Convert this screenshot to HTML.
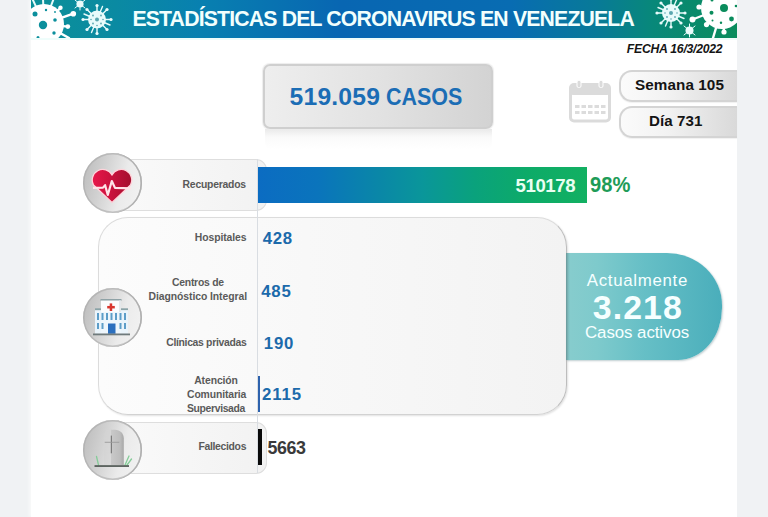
<!DOCTYPE html>
<html><head><meta charset="utf-8">
<style>
*{margin:0;padding:0;box-sizing:border-box}
html,body{width:768px;height:517px;overflow:hidden;background:#f0f2f4}
body{position:relative;font-family:"Liberation Sans",Arial,sans-serif}
.a{position:absolute}
.t{position:absolute;white-space:nowrap;line-height:1}
#panel{left:31px;top:0;width:706px;height:517px;background:#fff;box-shadow:-2px 0 3px #f8f9fa}
#banner{left:31px;top:0;width:706px;height:38px;overflow:hidden;
 background:linear-gradient(to right,#0b9098 0%,#0a8aa2 12%,#0880b0 24%,#0866b2 44%,#086cb2 68%,#087a98 80%,#08887a 88%,#0a8c5c 100%)}
#bline{left:31px;top:38px;width:706px;height:2px;background:#effdfb}
#title{color:#f2fffd;font-weight:bold}
#fecha{font-weight:bold;font-style:italic;color:#151515}
/* casos box */
#casos{left:263px;top:64px;width:230px;height:65px;border-radius:7px;
 background:linear-gradient(to right,#eeeeee,#e2e2e2 50%,#d3d3d3);
 border:2px solid #cfcfcf;box-shadow:0 0 1px 1px #ededed}
#casosr{left:265px;top:129px;width:227px;height:20px;border-radius:0 0 6px 6px;
 background:linear-gradient(to bottom,rgba(228,228,228,.8),rgba(240,240,240,.35) 40%,rgba(255,255,255,0))}
.casosT{color:#1b6db5;font-weight:bold}
/* pills */
.pill{left:619px;width:118px;height:32px;border-radius:13px 0 0 13px;
 background:linear-gradient(to right,#fbfbfb 0%,#f2f2f2 40%,#d9d9d9 100%);
 border:2px solid #d4d4d4;border-right:none;box-shadow:0 1px 1px rgba(0,0,0,.06)}
#semana{top:70px}
#dia{top:106px}
.pt{color:#141414;font-weight:bold}
/* label boxes */
.lbox{left:112px;width:155px;border-radius:0 11px 11px 0;
 background:linear-gradient(to right,#fafafa,#f2f2f2);
 border:1.5px solid #dedede;border-left:none}
#lrec{top:159px;height:52px}
#lfal{top:422px;height:52px}
.lab{color:#5a5a5a;font-weight:bold}
#bigbox{left:98px;top:217px;width:469px;height:198px;border-radius:30px;
 background:linear-gradient(to right,#fcfcfc,#f3f3f3);
 border:1.5px solid #dcdcdc;border-right-color:#bdbdbd;border-bottom-color:#d2d2d2;
 box-shadow:1px 1px 2px rgba(0,0,0,.12)}
#divl{left:257px;top:159px;width:1px;height:314px;background:#d9dde2}
#bar{left:258px;top:166.5px;width:329px;height:36px;
 background:linear-gradient(to right,#0b6cc2 0%,#0a74bc 18%,#0a86a8 36%,#0a969a 50%,#0aa27c 66%,#0dab68 82%,#12b062 100%)}
#barT{color:#eafff2;font-weight:bold}
#pct{color:#1e9c58;font-weight:bold}
.num{color:#1c6aab;font-weight:bold}
#blueb{left:258px;top:376px;width:1.6px;height:36px;background:#2d62ad}
#blackb{left:258px;top:429px;width:3.8px;height:36px;background:#0a0a0a}
#n5663{color:#3a3a3a;font-weight:bold}
#tab{left:566px;top:252.5px;width:155.5px;height:107.5px;border-radius:0 55px 44px 0/0 52px 52px 0;
 background:linear-gradient(to right,#6a9597 0px,#7cb9bb 2px,#86cccd 4px,#7ecacc 20%,#66bfc6 50%,#4aaebb 100%);
 box-shadow:1px 1px 2px rgba(0,60,70,.25)}
.tw{color:#f6ffff}
#act3{font-weight:bold}
.circ{left:82.5px;width:59.5px;height:59.5px;border-radius:50%;
 background:linear-gradient(105deg,#b9b9b9 0%,#d2d2d2 35%,#ebebeb 65%,#f3f3f3 100%);
 box-shadow:inset -1.5px 0 0 #b0b0b0, inset 0 0 0 1.5px rgba(170,170,170,.6)}
#c1{top:153px}
#c2{top:287.5px}
#c3{top:420px}
</style>
<style id="fit">#title{font-size:21.22px;letter-spacing:-0.820px;left:132.40px;top:7.64px}
#fecha{font-size:12.21px;letter-spacing:-0.243px;left:626.80px;top:43.26px}
#casosA{font-size:24.7px;letter-spacing:0.183px;left:289.60px;top:85.19px}
#casosB{font-size:24.7px;letter-spacing:0.000px;left:386.40px;top:85.19px;transform:scaleX(0.8692);transform-origin:0 0}
#semT{font-size:15.26px;letter-spacing:0.078px;left:635.00px;top:77.18px}
#diaT{font-size:15.12px;letter-spacing:0.067px;left:649.00px;top:113.20px}
#recL{font-size:10.4px;letter-spacing:-0.230px;left:182.60px;top:180.00px}
#barT{font-size:18.6px;letter-spacing:-0.420px;left:515.60px;top:176.75px}
#pct{font-size:21.22px;letter-spacing:0.000px;left:590.00px;top:174.44px;transform:scaleX(0.9490);transform-origin:0 0}
#hosL{font-size:10.4px;letter-spacing:-0.089px;left:194.80px;top:232.70px}
#n428{font-size:16.8px;letter-spacing:0.650px;left:262.80px;top:231.18px}
#cenL1{font-size:10.4px;letter-spacing:-0.244px;left:172.00px;top:277.60px}
#cenL2{font-size:10.4px;letter-spacing:-0.076px;left:148.60px;top:292.20px}
#n485{font-size:16.8px;letter-spacing:0.850px;left:261.20px;top:284.38px}
#cliL{font-size:10.4px;letter-spacing:-0.312px;left:166.20px;top:338.20px}
#n190{font-size:16.8px;letter-spacing:0.750px;left:263.80px;top:335.53px}
#atL1{font-size:10.4px;letter-spacing:-0.100px;left:194.20px;top:375.70px}
#atL2{font-size:10.4px;letter-spacing:-0.125px;left:187.00px;top:389.70px}
#atL3{font-size:10.4px;letter-spacing:-0.350px;left:187.00px;top:403.90px}
#n2115{font-size:16.8px;letter-spacing:0.900px;left:262.00px;top:386.98px}
#falL{font-size:10.4px;letter-spacing:-0.311px;left:198.40px;top:441.70px}
#n5663{font-size:17.88px;letter-spacing:-0.433px;left:267.60px;top:439.57px}
#act1{font-size:16.86px;letter-spacing:0.680px;left:586.80px;top:273.03px}
#act3{font-size:33.87px;letter-spacing:1.075px;left:592.80px;top:290.63px}
#act2{font-size:16.86px;letter-spacing:-0.067px;left:585.00px;top:324.63px}</style>
</head><body>
<div class="a" id="panel"></div>
<div class="a" id="banner">
<svg width="706" height="38" viewBox="0 0 706 38" style="position:absolute;left:0;top:0">
 <!-- left big virus (origin panel x=31) -->
 <g stroke="#e6fbfa" stroke-width="2" stroke-linecap="round">
  <line x1="13" y1="24" x2="1" y2="-2"/><line x1="13" y1="24" x2="12" y2="-2"/><line x1="13" y1="24" x2="23" y2="-2"/>
 </g>
 <g stroke="#fff" stroke-width="2.4" stroke-linecap="round">
  <line x1="13" y1="24" x2="29.5" y2="7.8"/><line x1="13" y1="24" x2="42.3" y2="13.7"/><line x1="13" y1="24" x2="36.8" y2="26.6"/><line x1="13" y1="24" x2="38" y2="38"/>
 </g>
 <g fill="#fff">
  <circle cx="13" cy="24" r="20"/>
  <circle cx="29.5" cy="7.8" r="2.2"/><circle cx="42.3" cy="13.7" r="2.8"/><circle cx="36.8" cy="26.6" r="2.4"/>
 </g>
 <g fill="#0b8f9c">
  <circle cx="12" cy="25" r="4.2"/><circle cx="4" cy="14" r="2.5"/><circle cx="15" cy="10" r="1.2"/><circle cx="24" cy="20" r="1.8"/><circle cx="23" cy="33" r="1.7"/><circle cx="7" cy="37.5" r="1.5"/><circle cx="24" cy="12" r=".9"/>
 </g>
 <!-- small virus top -->
 <g fill="#e8fbfb" stroke="#e8fbfb">
  <circle cx="49" cy="4" r="3.6" stroke="none"/>
  <g stroke-width="1" stroke-linecap="round"><line x1="49" y1="4" x2="54" y2="0"/><line x1="49" y1="4" x2="44" y2="0"/><line x1="49" y1="4" x2="54" y2="8"/><line x1="49" y1="4" x2="44" y2="8"/><line x1="49" y1="4" x2="49" y2="10"/></g>
 </g>
 <!-- medium virus left -->
 <g transform="translate(66,19.5)">
  <g stroke="#e8fbfb" stroke-width="1.4" stroke-linecap="round">
   <line x1="0" y1="0" x2="0" y2="-14"/><line x1="0" y1="0" x2="0" y2="14"/><line x1="0" y1="0" x2="-14" y2="0"/><line x1="0" y1="0" x2="14" y2="0"/>
   <line x1="0" y1="0" x2="10" y2="-10"/><line x1="0" y1="0" x2="-10" y2="-10"/><line x1="0" y1="0" x2="10" y2="10"/><line x1="0" y1="0" x2="-10" y2="10"/>
   <line x1="0" y1="0" x2="5.5" y2="-13"/><line x1="0" y1="0" x2="-5.5" y2="13"/><line x1="0" y1="0" x2="13" y2="5.5"/><line x1="0" y1="0" x2="-13" y2="-5.5"/>
  </g>
  <g fill="#e8fbfb">
   <circle r="9"/><circle cx="0" cy="-14" r="1.6"/><circle cx="0" cy="14" r="1.6"/><circle cx="-14" cy="0" r="1.6"/><circle cx="14" cy="0" r="1.6"/>
   <circle cx="10" cy="-10" r="1.6"/><circle cx="-10" cy="-10" r="1.6"/><circle cx="10" cy="10" r="1.6"/><circle cx="-10" cy="10" r="1.6"/>
  </g>
  <g fill="#5aa7b0"><circle r="2"/><circle cx="-4" cy="-4" r=".9"/><circle cx="4" cy="-4" r=".9"/><circle cx="-4" cy="4" r=".9"/><circle cx="4" cy="4" r=".9"/><circle cx="-6" cy="0" r=".8"/><circle cx="6" cy="0" r=".8"/><circle cx="0" cy="6" r=".8"/></g>
 </g>
 <!-- right medium virus -->
 <g transform="translate(640,13)">
  <g stroke="#e8fbfb" stroke-width="1.4" stroke-linecap="round">
   <line x1="0" y1="0" x2="0" y2="-14"/><line x1="0" y1="0" x2="0" y2="14"/><line x1="0" y1="0" x2="-14" y2="0"/><line x1="0" y1="0" x2="14" y2="0"/>
   <line x1="0" y1="0" x2="10" y2="-10"/><line x1="0" y1="0" x2="-10" y2="-10"/><line x1="0" y1="0" x2="10" y2="10"/><line x1="0" y1="0" x2="-10" y2="10"/>
   <line x1="0" y1="0" x2="5.5" y2="-13"/><line x1="0" y1="0" x2="-5.5" y2="13"/><line x1="0" y1="0" x2="13" y2="5.5"/><line x1="0" y1="0" x2="-13" y2="-5.5"/>
  </g>
  <g fill="#e8fbfb">
   <circle r="9"/><circle cx="0" cy="-14" r="1.6"/><circle cx="0" cy="14" r="1.6"/><circle cx="-14" cy="0" r="1.6"/><circle cx="14" cy="0" r="1.6"/>
   <circle cx="10" cy="-10" r="1.6"/><circle cx="-10" cy="-10" r="1.6"/><circle cx="10" cy="10" r="1.6"/><circle cx="-10" cy="10" r="1.6"/>
  </g>
  <g fill="#5aa7b0"><circle r="2"/><circle cx="-4" cy="-4" r=".9"/><circle cx="4" cy="-4" r=".9"/><circle cx="-4" cy="4" r=".9"/><circle cx="4" cy="4" r=".9"/><circle cx="-6" cy="0" r=".8"/><circle cx="6" cy="0" r=".8"/><circle cx="0" cy="6" r=".8"/></g>
 </g>
 <!-- right small virus -->
 <g fill="#e8fbfb" stroke="#e8fbfb">
  <circle cx="658.5" cy="30.5" r="4" stroke="none"/>
  <g stroke-width="1" stroke-linecap="round"><line x1="658.5" y1="30.5" x2="664" y2="26"/><line x1="658.5" y1="30.5" x2="653" y2="26"/><line x1="658.5" y1="30.5" x2="664" y2="35"/><line x1="658.5" y1="30.5" x2="653" y2="35"/><line x1="658.5" y1="30.5" x2="658.5" y2="24"/><line x1="658.5" y1="30.5" x2="658.5" y2="37"/></g>
 </g>
 <!-- right big virus -->
 <g stroke="#fff" stroke-width="2.4" stroke-linecap="round">
  <line x1="691" y1="8" x2="661.5" y2="19.5"/><line x1="691" y1="8" x2="668" y2="7"/><line x1="691" y1="8" x2="675.5" y2="24.6"/><line x1="691" y1="8" x2="693" y2="32"/><line x1="691" y1="8" x2="682" y2="38"/>
 </g>
 <g fill="#fff">
  <circle cx="691" cy="8" r="21"/>
  <circle cx="661.5" cy="19.5" r="3"/><circle cx="668" cy="7" r="2.6"/><circle cx="675.5" cy="24.6" r="2.6"/><circle cx="693" cy="32" r="2.6"/>
 </g>
 <g fill="#0a8c5c">
  <circle cx="693" cy="8" r="4"/><circle cx="680.5" cy="12.8" r="2"/><circle cx="700.5" cy="19" r="2.4"/><circle cx="681.5" cy="20.5" r="1"/><circle cx="690" cy="22.7" r="1.2"/><circle cx="705" cy="6" r="1.3"/><circle cx="681" cy="0" r="1.5"/>
 </g>
</svg>
</div>
<div class="a" id="bline"></div>
<div class="t" id="title">ESTADÍSTICAS DEL CORONAVIRUS EN VENEZUELA</div>
<div class="t" id="fecha">FECHA 16/3/2022</div>

<div class="a" id="casosr"></div>
<div class="a" id="casos"></div>
<div class="t casosT" id="casosA">519.059</div>
<div class="t casosT" id="casosB">CASOS</div>

<svg class="a" style="left:568px;top:80px" width="45" height="44" viewBox="0 0 45 44">
 <g fill="none" stroke="#dbdbdb">
  <rect x="2.5" y="4.5" width="39" height="36.5" rx="3.5" stroke-width="3"/>
 </g>
 <rect x="2" y="4" width="40" height="11" rx="3" fill="#dbdbdb"/>
 <rect x="9" y="0.5" width="4" height="7" rx="1.5" fill="#dbdbdb" stroke="#fff" stroke-width="1"/>
 <rect x="31" y="0.5" width="4" height="7" rx="1.5" fill="#dbdbdb" stroke="#fff" stroke-width="1"/>
 <g fill="#dcdcdc">
  <rect x="7" y="25" width="4.5" height="3"/><rect x="13.5" y="25" width="4.5" height="3"/><rect x="20" y="25" width="4.5" height="3"/><rect x="26.5" y="25" width="4.5" height="3"/><rect x="33" y="25" width="4.5" height="3"/>
  <rect x="7" y="31" width="4.5" height="3"/><rect x="13.5" y="31" width="4.5" height="3"/><rect x="20" y="31" width="4.5" height="3"/><rect x="26.5" y="31" width="4.5" height="3"/><rect x="33" y="31" width="4.5" height="3"/>
 </g>
</svg>

<div class="a pill" id="semana"></div>
<div class="a pill" id="dia"></div>
<div class="t pt" id="semT">Semana 105</div>
<div class="t pt" id="diaT">Día 731</div>

<div class="a" id="bigbox"></div>
<div class="a lbox" id="lrec"></div>
<div class="a lbox" id="lfal"></div>
<div class="a" id="divl"></div>
<div class="a" id="bar"></div>
<div class="a" id="tab"></div>
<div class="a" id="blueb"></div>
<div class="a" id="blackb"></div>

<div class="t lab" id="recL">Recuperados</div>
<div class="t" id="barT">510178</div>
<div class="t" id="pct">98%</div>

<div class="t lab" id="hosL">Hospitales</div>
<div class="t num" id="n428">428</div>
<div class="t lab" id="cenL1">Centros de</div>
<div class="t lab" id="cenL2">Diagnóstico Integral</div>
<div class="t num" id="n485">485</div>
<div class="t lab" id="cliL">Clínicas privadas</div>
<div class="t num" id="n190">190</div>
<div class="t lab" id="atL1">Atención</div>
<div class="t lab" id="atL2">Comunitaria</div>
<div class="t lab" id="atL3">Supervisada</div>
<div class="t num" id="n2115">2115</div>
<div class="t lab" id="falL">Fallecidos</div>
<div class="t" id="n5663">5663</div>

<div class="t tw" id="act1">Actualmente</div>
<div class="t tw" id="act3">3.218</div>
<div class="t tw" id="act2">Casos activos</div>

<div class="a circ" id="c1"></div>
<div class="a circ" id="c2"></div>
<div class="a circ" id="c3"></div>

<!-- heart -->
<svg class="a" style="left:91px;top:168px" width="43" height="36" viewBox="0 0 43 36">
 <defs><linearGradient id="hg" x1="0" x2="1" y1="0" y2="0"><stop offset="0" stop-color="#e8174a"/><stop offset=".5" stop-color="#c8123c"/><stop offset="1" stop-color="#a3102e"/></linearGradient></defs>
 <path d="M21 7 A10.5 10.5 0 1 0 2.5 17 L21 34.4 L39.5 17 A10.5 10.5 0 1 0 21 7 Z" fill="url(#hg)" stroke="#ffd3da" stroke-width="1.3"/>
 <polyline points="2,19.8 12,19.6 14.1,17.2 16.8,27 20.8,13 24,19.9 40,20.4" fill="none" stroke="#ffe4e8" stroke-width="2.2" stroke-linejoin="round"/>
</svg>

<!-- hospital -->
<svg class="a" style="left:92px;top:298px" width="40" height="38" viewBox="0 0 40 38">
 <rect x="8.5" y="1" width="21" height="1.8" fill="#8fa2a6"/>
 <rect x="9" y="2.6" width="20" height="12" fill="#fbfcfd"/>
 <rect x="27" y="2.6" width="2" height="12" fill="#e4e8ea"/>
 <rect x="17.7" y="5.4" width="2.5" height="7.6" fill="#d8362e"/>
 <rect x="15.2" y="7.95" width="7.6" height="2.5" fill="#d8362e"/>
 <rect x="3" y="10.3" width="6" height="2" fill="#8aa3a7"/>
 <rect x="29" y="10.3" width="7" height="2" fill="#8aa3a7"/>
 <rect x="3" y="12.3" width="6" height="23.5" fill="#eaf4fb"/>
 <rect x="29" y="12.3" width="7" height="23.5" fill="#eaf4fb"/>
 <rect x="9" y="14" width="20" height="21.8" fill="#eef6fc"/>
 <g fill="#5d9dc8">
  <rect x="5" y="15" width="2" height="7"/><rect x="9.5" y="15" width="2" height="7"/><rect x="14" y="15" width="2" height="7"/><rect x="18.5" y="15" width="2" height="7"/><rect x="23" y="15" width="2" height="7"/><rect x="27.5" y="15" width="2" height="7"/><rect x="32" y="15" width="2" height="7"/>
  <rect x="5" y="25" width="2" height="6"/><rect x="9.5" y="25" width="2" height="6"/><rect x="27.5" y="25" width="2" height="6"/><rect x="32" y="25" width="2" height="6"/>
 </g>
 <rect x="16" y="25.5" width="7.5" height="10.3" fill="#2b6fbe"/>
 <rect x="1" y="35.5" width="37" height="1.8" fill="#6f7a7c"/>
</svg>

<!-- tomb -->
<svg class="a" style="left:92px;top:427px" width="42" height="42" viewBox="0 0 42 42">
 <defs><linearGradient id="tg" x1="0" x2="1"><stop offset="0" stop-color="#c9c9c9"/><stop offset=".7" stop-color="#bdbdbd"/><stop offset="1" stop-color="#a8a8a8"/></linearGradient></defs>
 <path d="M12 38 L12 7 C12 4.5 14 2.8 17 2.8 L19 2.8 L19 38 Z" fill="#d4d4d4" opacity=".55"/>
 <path d="M19 38 L19 2.8 L23 2.8 C28 2.8 31.8 6.5 31.8 11.5 L31.8 38 Z" fill="url(#tg)"/>
 <rect x="18.8" y="8.6" width="1.1" height="17.7" fill="#747474"/>
 <rect x="12.7" y="14.8" width="14.6" height=".9" fill="#9a9a9a"/>
 <g stroke="#84cc98" stroke-width="1.3" fill="none" stroke-linecap="round">
  <line x1="6.5" y1="38" x2="4.5" y2="29.5"/>
  <line x1="33" y1="38" x2="37" y2="29"/><line x1="35" y1="38" x2="39.5" y2="32"/>
 </g>
 <rect x="2.5" y="38.2" width="34.5" height="1.7" fill="#4f5753"/>
</svg>
</body></html>
